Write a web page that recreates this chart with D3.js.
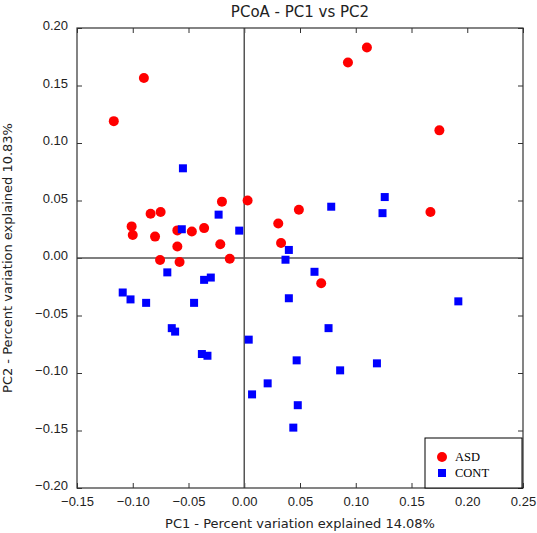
<!DOCTYPE html>
<html lang="en">
<head>
  <meta charset="utf-8" />
  <title>PCoA - PC1 vs PC2</title>
  <style>
    body {
      margin: 0;
      background: #fff;
    }
    svg {
      display: block;
      font-family: "DejaVu Sans", sans-serif;
    }
    .tick text {
      font-size: 13px;
      fill: #222;
    }
    .tick line {
      stroke: #333;
    }
    .zero {
      stroke: #555;
      stroke-width: 1.5px;
    }
    .legend text {
      font: 12.5px "Liberation Serif", "Times New Roman", serif;
      fill: #000;
    }
  </style>
</head>
<body>
<script src="https://cdn.jsdelivr.net/npm/d3@7"></script>
<script>
  // ASD samples
  const asdX = [-0.117, -0.090, 0.093, 0.110, 0.175, -0.020, 0.003, -0.084, -0.075,
    -0.101, -0.100, -0.080, -0.060, -0.047, -0.036, -0.060, -0.0215, -0.0755,
    -0.058, -0.013, 0.049, 0.0305, 0.033, 0.069, 0.167];
  const asdY = [0.119, 0.1565, 0.170, 0.183, 0.111, 0.049, 0.050, 0.0385, 0.040,
    0.0275, 0.020, 0.0186, 0.024, 0.023, 0.026, 0.010, 0.012, -0.0017,
    -0.0035, -0.0006, 0.042, 0.030, 0.013, -0.022, 0.040];

  // control samples
  const contX = [-0.055, -0.023, -0.056, -0.0045, -0.069, 0.078, 0.126, 0.124, 0.040,
    0.037, 0.063, 0.040, 0.192, 0.0756, 0.004, 0.047, 0.086, 0.119, 0.021,
    0.007, 0.048, 0.044, -0.036, -0.030, -0.109, -0.102, -0.088, -0.045,
    -0.065, -0.062, -0.038, -0.033];
  const contY = [0.078, 0.0377, 0.025, 0.0238, -0.0125, 0.0446, 0.053, 0.039, 0.007,
    -0.0015, -0.012, -0.035, -0.0377, -0.061, -0.071, -0.089, -0.0977, -0.0916, -0.109,
    -0.1186, -0.128, -0.1475, -0.019, -0.017, -0.030, -0.036, -0.039, -0.039,
    -0.061, -0.064, -0.0835, -0.085];

  const xTicks = [-0.15, -0.10, -0.05, 0.00, 0.05, 0.10, 0.15, 0.20, 0.25];
  const yTicks = [-0.20, -0.15, -0.10, -0.05, 0.00, 0.05, 0.10, 0.15, 0.20];
  const groups = ["ASD", "CONT"];
  const colors = ["#ff0000", "#0000ff"];

  const width = 537;
  const height = 533;
  const margin = {top: 28, right: 14, bottom: 45, left: 77};
  const w = width - margin.left - margin.right;
  const h = height - margin.top - margin.bottom;

  const svg = d3.select("body")
    .append("svg")
    .attr("width", width)
    .attr("height", height);

  const g = svg.append("g")
    .attr("transform", `translate(${margin.left},${margin.top})`);

  const x = d3.scaleLinear().domain([-0.15, 0.25]).range([0, w]);
  const y = d3.scaleLinear().domain([-0.20, 0.20]).range([h, 0]);
  const fmt = d3.format(".2f");

  // axes, ticks pointing inward on all four sides
  g.append("g")
    .attr("transform", `translate(0,${h})`)
    .call(d3.axisBottom(x).tickValues(xTicks).tickFormat(fmt)
      .tickSizeInner(-5).tickSizeOuter(0).tickPadding(9));
  const left = g.append("g")
    .call(d3.axisLeft(y).tickValues(yTicks).tickFormat(fmt)
      .tickSizeInner(-5).tickSizeOuter(0).tickPadding(9));
  g.append("g")
    .call(d3.axisTop(x).tickValues(xTicks).tickFormat("")
      .tickSizeInner(-5).tickSizeOuter(0));
  g.append("g")
    .attr("transform", `translate(${w},0)`)
    .call(d3.axisRight(y).tickValues(yTicks).tickFormat("")
      .tickSizeInner(-5).tickSizeOuter(0));

  g.selectAll(".domain").remove();
  g.selectAll(".tick text").attr("font-family", null).attr("font-size", null);
  left.selectAll(".tick text").attr("dy", "0.15em");

  // zero lines
  g.append("line").attr("class", "zero")
    .attr("x1", x(0)).attr("x2", x(0)).attr("y1", 0).attr("y2", h);
  g.append("line").attr("class", "zero")
    .attr("x1", 0).attr("x2", w).attr("y1", y(0)).attr("y2", y(0));

  // frame
  g.append("rect")
    .attr("width", w).attr("height", h)
    .attr("fill", "none")
    .attr("stroke", "#333")
    .attr("stroke-width", 1.2);

  // points
  g.selectAll("circle.asd")
    .data(d3.zip(asdX, asdY))
    .join("circle")
    .attr("class", "asd")
    .attr("cx", d => x(d[0]))
    .attr("cy", d => y(d[1]))
    .attr("r", 5)
    .attr("fill", colors[0]);

  g.selectAll("rect.cont")
    .data(d3.zip(contX, contY))
    .join("rect")
    .attr("class", "cont")
    .attr("x", d => x(d[0]) - 4)
    .attr("y", d => y(d[1]) - 4)
    .attr("width", 8)
    .attr("height", 8)
    .attr("fill", colors[1]);

  // legend
  const legend = g.append("g")
    .attr("class", "legend")
    .attr("transform", `translate(${w - 98},${h - 50})`);
  legend.append("rect")
    .attr("width", 97).attr("height", 50)
    .attr("fill", "#fff").attr("stroke", "#000").attr("stroke-width", 1);
  groups.forEach((name, i) => {
    const row = legend.append("g").attr("transform", `translate(17,${19 + i * 16})`);
    if (i === 0) {
      row.append("circle").attr("r", 5).attr("fill", colors[i]);
    } else {
      row.append("rect").attr("x", -4).attr("y", -4).attr("width", 8).attr("height", 8)
        .attr("fill", colors[i]);
    }
    row.append("text").attr("x", 13).attr("dy", "0.33em").text(name);
  });

  // titles
  svg.append("text")
    .attr("x", margin.left + w / 2).attr("y", 17)
    .attr("text-anchor", "middle")
    .attr("font-size", 15).attr("fill", "#222")
    .text("PCoA - PC1 vs PC2");

  svg.append("text")
    .attr("x", margin.left + w / 2).attr("y", 528)
    .attr("text-anchor", "middle")
    .attr("font-size", 13).attr("fill", "#222")
    .text("PC1 - Percent variation explained 14.08%");

  svg.append("text")
    .attr("transform", `translate(12,${margin.top + h / 2}) rotate(-90)`)
    .attr("text-anchor", "middle")
    .attr("font-size", 13).attr("fill", "#222")
    .text("PC2 - Percent variation explained 10.83%");
</script>
</body>
</html>
